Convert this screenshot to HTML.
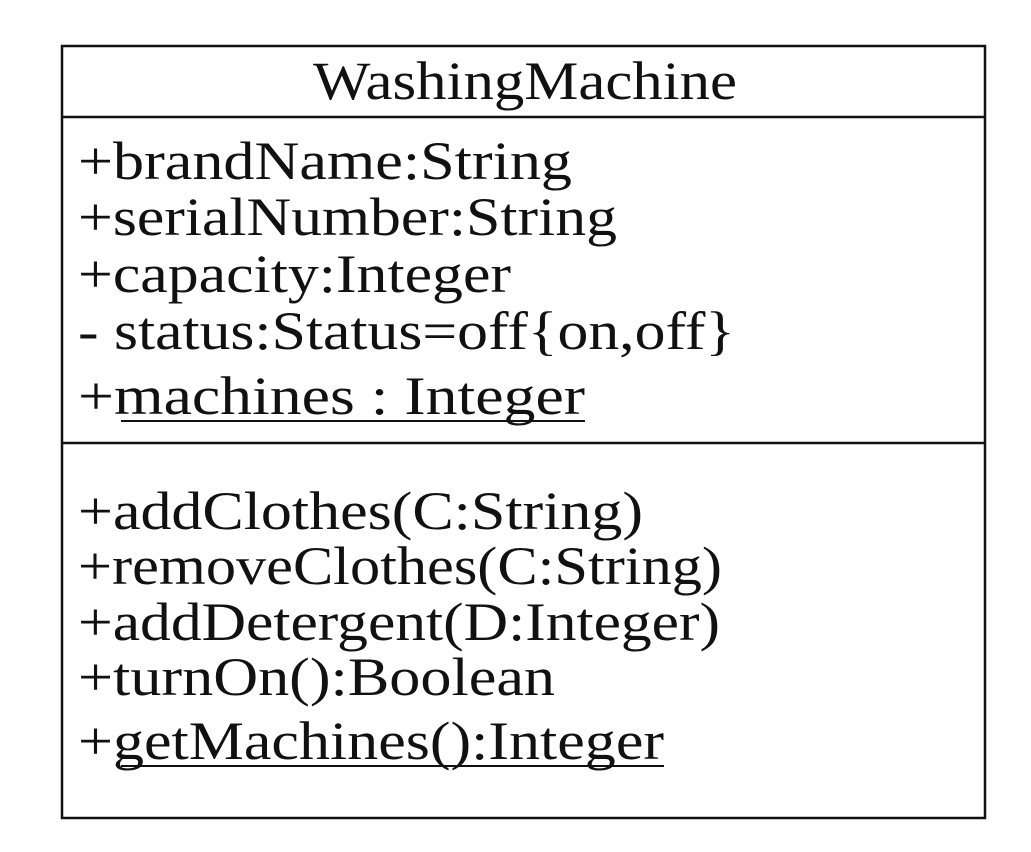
<!DOCTYPE html>
<html><head><meta charset="utf-8"><style>
html,body{margin:0;padding:0;background:#fff;}
svg{display:block;}
text{font-family:"Liberation Serif",serif;font-size:54px;fill:#111;}
</style></head><body>
<svg width="1031" height="852" viewBox="0 0 1031 852" xmlns="http://www.w3.org/2000/svg">
<rect x="62" y="46" width="923" height="772" fill="none" stroke="#111" stroke-width="2.5"/>
<line x1="62" y1="117" x2="985" y2="117" stroke="#111" stroke-width="2.5"/>
<line x1="62" y1="443" x2="985" y2="443" stroke="#111" stroke-width="2.5"/>
<text x="313" y="99" textLength="424" lengthAdjust="spacingAndGlyphs">WashingMachine</text>
<text x="78" y="179" textLength="494" lengthAdjust="spacingAndGlyphs">+brandName:String</text>
<text x="78" y="235" textLength="539" lengthAdjust="spacingAndGlyphs">+serialNumber:String</text>
<text x="78" y="292" textLength="433" lengthAdjust="spacingAndGlyphs">+capacity:Integer</text>
<text x="78" y="349" textLength="657" lengthAdjust="spacingAndGlyphs">- status:Status=off{on,off}</text>
<text x="78" y="414" textLength="507" lengthAdjust="spacingAndGlyphs">+machines  :  Integer</text>
<line x1="121" y1="421" x2="585" y2="421" stroke="#111" stroke-width="2"/>
<text x="78" y="529" textLength="565" lengthAdjust="spacingAndGlyphs">+addClothes(C:String)</text>
<text x="78" y="584" textLength="644" lengthAdjust="spacingAndGlyphs">+removeClothes(C:String)</text>
<text x="78" y="640" textLength="642" lengthAdjust="spacingAndGlyphs">+addDetergent(D:Integer)</text>
<text x="78" y="695" textLength="477" lengthAdjust="spacingAndGlyphs">+turnOn():Boolean</text>
<text x="78" y="759" textLength="586" lengthAdjust="spacingAndGlyphs">+getMachines():Integer</text>
<line x1="121" y1="766" x2="664" y2="766" stroke="#111" stroke-width="2"/>
</svg>
</body></html>
